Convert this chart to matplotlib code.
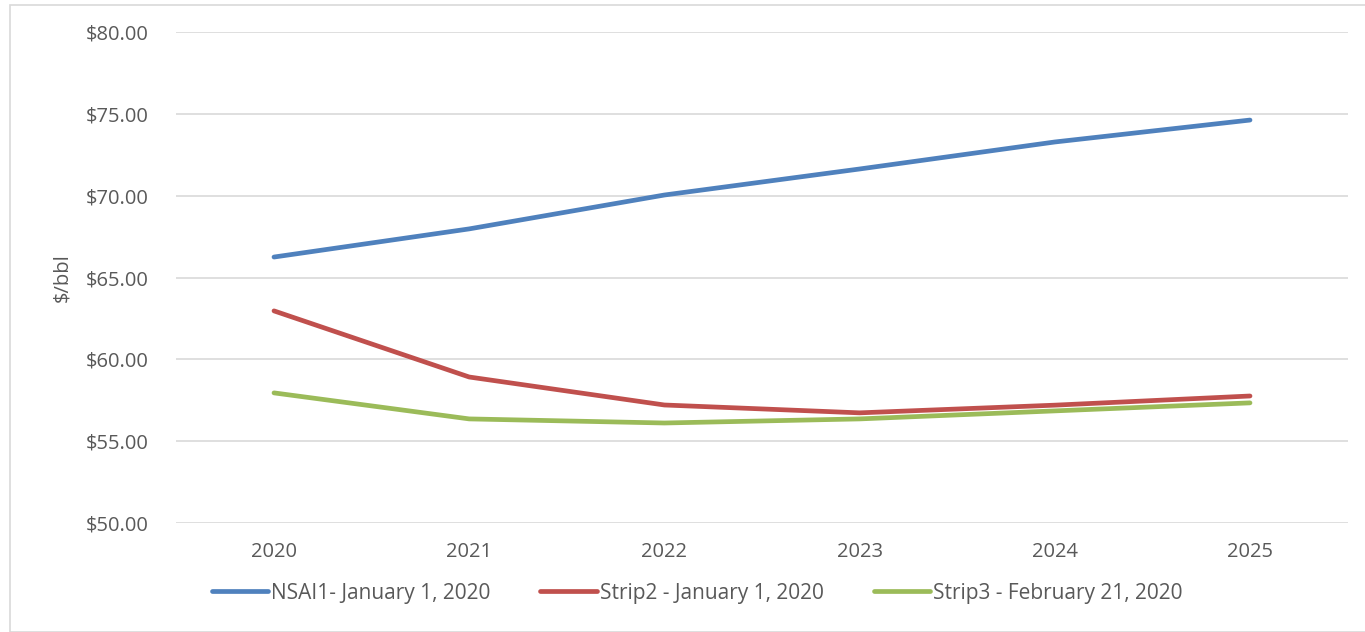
import matplotlib
matplotlib.use("Agg")
import matplotlib.pyplot as plt
from matplotlib.patches import Rectangle

# data ($/bbl)
years = ["2020", "2021", "2022", "2023", "2024", "2025"]
nsai = [66.25, 67.97, 70.04, 71.63, 73.28, 74.62]
strip2 = [62.96, 58.92, 57.21, 56.73, 57.20, 57.76]
strip3 = [57.95, 56.36, 56.11, 56.36, 56.85, 57.34]
labels = ["NSAI1- January 1, 2020", "Strip2 - January 1, 2020", "Strip3 - February 21, 2020"]
yticks = [50, 55, 60, 65, 70, 75, 80]

plt.rcParams['font.family'] = ['Open Sans', 'DejaVu Sans']

fig = plt.figure(figsize=(13.65, 6.32), dpi=100)
W, H = 1365, 632

# chart border like the excel frame
fig.patches.append(Rectangle((10 / W, 0), 1.0, 1 - 5 / H, transform=fig.transFigure,
                             fill=False, edgecolor="#d9d9d9", linewidth=1.2))

ax = fig.add_axes([176.4 / W, 1 - 523 / H, 1171.2 / W, 491 / H])

x = list(range(len(years)))
colors = ["#4f81bd", "#c0504d", "#9bbb59"]
for ys, c, lab in zip([nsai, strip2, strip3], colors, labels):
    ax.plot(x, ys, color=c, linewidth=3.4, solid_capstyle="round", label=lab)

ax.set_xlim(-0.5, 5.5)
ax.set_ylim(50, 80)
ax.set_yticks(yticks)
ax.set_yticklabels(["${:.2f}".format(v) for v in yticks])
ax.set_xticks(x)
ax.set_xticklabels(years)
ax.grid(axis="y", color="#d9d9d9", linewidth=1.2)
ax.set_axisbelow(True)
for s in ax.spines.values():
    s.set_visible(False)
ax.tick_params(length=0, labelsize=14.5, labelcolor="#595959")
ax.tick_params(axis="y", pad=20)
ax.tick_params(axis="x", pad=14)
ax.set_ylabel("$/bbl", fontsize=14.5, color="#595959")
ax.yaxis.set_label_coords(-0.089, 0.5)

ax.legend(loc="center", bbox_to_anchor=(0.4445, -0.143), ncol=3, frameon=False,
          fontsize=15, labelcolor="#595959", handlelength=2.7, handletextpad=0.15,
          columnspacing=2.4)

fig.savefig("out.png", dpi=100)
